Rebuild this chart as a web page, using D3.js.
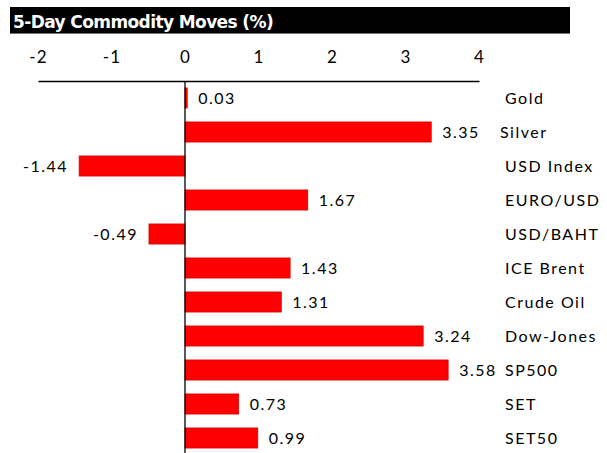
<!DOCTYPE html>
<html><head><meta charset="utf-8">
<script src="https://cdn.jsdelivr.net/npm/d3@7/dist/d3.min.js"></script>
<style>body{margin:0;background:#fff}svg{display:block}</style>
</head><body><div id="c"></div>
<script>
const categories = ["Gold","Silver","USD Index","EURO/USD","USD/BAHT","ICE Brent","Crude Oil","Dow-Jones","SP500","SET","SET50"];
const values = [0.03,3.35,-1.44,1.67,-0.49,1.43,1.31,3.24,3.58,0.73,0.99];
const tickValues = [-2,-1,0,1,2,3,4];
const title = "5-Day Commodity Moves (%)";

const W = 607, H = 453;
const svg = d3.select("#c").append("svg").attr("width", W).attr("height", H);
const font = "Lato, 'Open Sans', sans-serif";

// title bar
svg.append("rect").attr("x",10).attr("y",7).attr("width",560).attr("height",26).attr("fill","#000");
svg.append("line").attr("x1",10).attr("x2",570).attr("y1",33.5).attr("y2",33.5).attr("stroke","#777").attr("stroke-width",1);
svg.append("text").attr("x",13).attr("y",28).attr("fill","#fff")
  .attr("font-family","Verdana, 'DejaVu Sans', sans-serif").attr("font-weight","bold")
  .attr("font-size",17).attr("letter-spacing",-0.6).text(title);

const x = d3.scaleLinear().domain([-2,4]).range([38,479]);
const y = d3.scaleBand().domain(categories).range([81,455]).paddingInner(0.41).paddingOuter(0.205);

// top axis
const ax = svg.append("g").attr("transform","translate(0,81)")
  .call(d3.axisTop(x).tickValues(tickValues).tickSize(0).tickPadding(18).tickFormat((d)=>String(d)));
ax.select(".domain").attr("stroke","#000").attr("stroke-width",1.3);
ax.selectAll("text").attr("font-family",font).attr("font-size",17).attr("letter-spacing",1.2).attr("fill","#000");

// bars
svg.append("g").selectAll("rect").data(values).join("rect")
  .attr("x",(d)=>x(Math.min(0,d)))
  .attr("width",(d)=>Math.abs(x(d)-x(0)))
  .attr("y",(d,i)=>y(categories[i]))
  .attr("height",y.bandwidth())
  .attr("fill","#ff0000").attr("stroke","#d40000").attr("stroke-width",0.8);

// zero line
svg.append("line").attr("x1",x(0)).attr("x2",x(0)).attr("y1",81).attr("y2",H)
  .attr("stroke","#000").attr("stroke-width",1.3);

// value labels
svg.append("g").selectAll("text").data(values).join("text")
  .attr("x",(d)=> d>=0 ? x(d)+11 : x(d)-11)
  .attr("y",(d,i)=>y(categories[i])+y.bandwidth()/2)
  .attr("dy","0.36em")
  .attr("text-anchor",(d)=> d>=0 ? "start":"end")
  .attr("font-family",font).attr("font-size",16).attr("letter-spacing",1.5).attr("fill","#000")
  .text((d)=>d.toFixed(2));

// category labels
svg.append("g").selectAll("text").data(categories).join("text")
  .attr("x",(d)=> d==="Silver" ? 500 : 505)
  .attr("y",(d)=>y(d)+y.bandwidth()/2)
  .attr("dy","0.36em")
  .attr("font-family",font).attr("font-size",16).attr("letter-spacing",1.5).attr("fill","#000")
  .text((d)=>d);
</script></body></html>
